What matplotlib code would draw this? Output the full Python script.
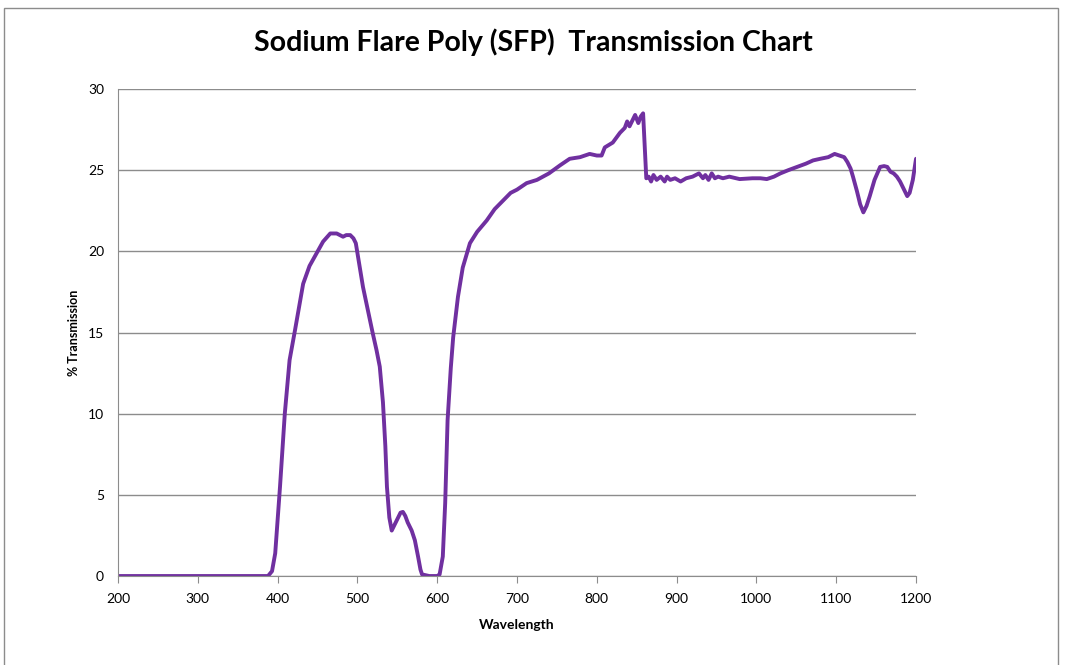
import matplotlib
matplotlib.use("Agg")
from matplotlib import pyplot as plt
from matplotlib.patches import Rectangle

# wavelength (nm) and % transmission
wavelength = [200, 300, 380, 388, 393, 397, 403, 409, 415, 422, 432, 440, 449, 457,
              466, 474, 478, 482, 486, 491, 495, 498, 503, 507, 513, 519, 524, 528,
              532, 535, 537, 540, 543, 546, 550, 554, 557, 560, 563, 568, 572, 576,
              579, 581, 590, 600, 603, 607, 610, 613, 617, 620, 626, 632, 641, 650,
              662, 672, 684, 692, 700, 712, 725, 740, 754, 766, 779, 791, 800, 806,
              810, 820, 829, 835, 838, 841, 845, 848, 852, 855, 858, 860, 862, 865,
              868, 871, 875, 880, 885, 888, 892, 898, 905, 912, 920, 928, 933, 936,
              940, 944, 948, 952, 958, 966, 979, 995, 1005, 1013, 1022, 1030, 1040,
              1051, 1062, 1071, 1080, 1090, 1098, 1104, 1110, 1114, 1118, 1121, 1126,
              1130, 1134, 1138, 1142, 1148, 1155, 1160, 1164, 1168, 1172, 1176, 1180,
              1185, 1189, 1192, 1196, 1200]
transmission = [0, 0, 0, 0, 0.3, 1.4, 5.5, 10.0, 13.3, 15.2, 18.0, 19.1, 19.9, 20.6,
                21.1, 21.1, 21.0, 20.9, 21.0, 21.0, 20.8, 20.5, 19.0, 17.8, 16.4, 15.0,
                13.9, 12.9, 10.7, 8.0, 5.5, 3.6, 2.8, 3.1, 3.5, 3.9, 3.95, 3.7, 3.3,
                2.8, 2.2, 1.2, 0.4, 0.1, 0, 0, 0.1, 1.2, 4.5, 9.6, 12.8, 14.7, 17.2,
                19.0, 20.5, 21.2, 21.9, 22.6, 23.2, 23.6, 23.8, 24.2, 24.4, 24.8, 25.3,
                25.7, 25.8, 26.0, 25.9, 25.9, 26.4, 26.7, 27.3, 27.6, 28.0, 27.7, 28.1,
                28.4, 27.9, 28.3, 28.5, 26.5, 24.5, 24.6, 24.3, 24.7, 24.4, 24.6, 24.3,
                24.6, 24.4, 24.5, 24.3, 24.5, 24.6, 24.8, 24.5, 24.7, 24.4, 24.8, 24.5,
                24.6, 24.5, 24.6, 24.45, 24.5, 24.5, 24.45, 24.6, 24.8, 25.0, 25.2,
                25.4, 25.6, 25.7, 25.8, 26.0, 25.9, 25.8, 25.5, 25.1, 24.6, 23.7, 22.9,
                22.4, 22.8, 23.4, 24.4, 25.2, 25.25, 25.2, 24.9, 24.8, 24.6, 24.3, 23.8,
                23.4, 23.6, 24.4, 25.7]

x_ticks = [200, 300, 400, 500, 600, 700, 800, 900, 1000, 1100, 1200]
y_ticks = [0, 5, 10, 15, 20, 25, 30]

plt.rcParams['font.family'] = ['Lato', 'DejaVu Sans']

fig = plt.figure(figsize=(10.67, 6.65), dpi=100)
fig.patches.append(Rectangle((0.004, -0.01), 0.988, 0.998, transform=fig.transFigure,
                             fill=False, edgecolor='#8c8c8c', linewidth=1.0))
ax = fig.add_axes([0.1106, 0.1338, 0.7479, 0.7324])

ax.plot(wavelength, transmission, color='#7030a0', linewidth=2.8,
        solid_joinstyle='round', solid_capstyle='round')

ax.set_xlim(200, 1200)
ax.set_ylim(0, 30)
ax.set_xticks(x_ticks)
ax.set_yticks(y_ticks)
ax.grid(axis='y', color='#8c8c8c', linewidth=1.0)
ax.set_axisbelow(True)
for s in ['top', 'right']:
    ax.spines[s].set_visible(False)
ax.spines['left'].set_color('#8c8c8c')
ax.spines['bottom'].set_color('#8c8c8c')
ax.tick_params(axis='x', length=5, color='#8c8c8c', labelsize=10, pad=7)
ax.tick_params(axis='y', length=0, labelsize=10, pad=10)

ax.set_xlabel('Wavelength', fontsize=10, fontweight='bold', labelpad=10)
ax.set_ylabel('% Transmission', fontsize=9, fontweight='bold', labelpad=6)
fig.text(0.5, 0.937, 'Sodium Flare Poly (SFP)  Transmission Chart', ha='center', va='center',
         fontsize=20.5, fontweight='bold')

fig.savefig('out.png', dpi=100)
